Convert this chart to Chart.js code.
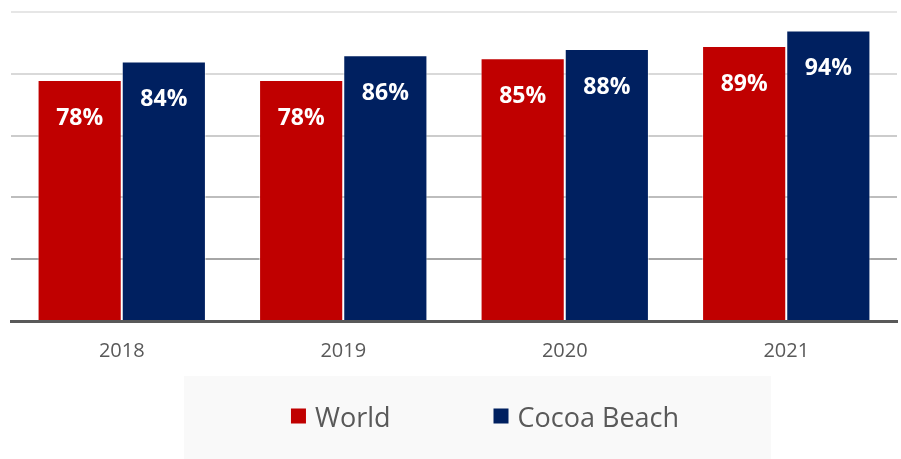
<!DOCTYPE html>
<html>
<head>
<meta charset="utf-8">
<script src="https://cdn.jsdelivr.net/npm/chart.js@4.4.1/dist/chart.umd.min.js"></script>
<style>
    html, body { margin: 0; padding: 0; background: #ffffff; }
    #wrap { width: 901px; height: 459px; position: relative; }
</style>
</head>
<body>
<div id="wrap"><canvas id="chart"></canvas></div>
<script>
// Chart data
const years = ['2018', '2019', '2020', '2021'];
const worldValues = [78, 78, 85, 89];
const cocoaBeachValues = [84, 86, 88, 94];
const seriesNames = ['World', 'Cocoa Beach'];
const seriesColors = ['#c00000', '#002060'];
const yTicks = [0, 20, 40, 60, 80, 100];

// gridlines get darker towards the baseline
const gridColors = ['#595959', '#a6a6a6', '#bdbdbd', '#cccccc', '#d9d9d9', '#e6e6e6'];

// white percentage labels inside each bar
const barLabels = {
    id: 'barLabels',
    afterDatasetsDraw(chart) {
        const ctx = chart.ctx;
        ctx.save();
        ctx.fillStyle = '#ffffff';
        ctx.font = 'bold 23px "Open Sans"';
        ctx.textAlign = 'center';
        ctx.textBaseline = 'middle';
        chart.data.datasets.forEach((ds, i) => {
            chart.getDatasetMeta(i).data.forEach((bar, j) => {
                ctx.fillText(ds.data[j] + '%', bar.x, bar.y + 38);
            });
        });
        ctx.restore();
    }
};

// legend panel with grey background, drawn from the datasets
const legendPanel = {
    id: 'legendPanel',
    beforeDraw(chart) {
        const ctx = chart.ctx;
        ctx.save();
        ctx.fillStyle = '#f9f9f9';
        ctx.fillRect(184, 376, 587, 83);
        ctx.restore();
    },
    afterDraw(chart) {
        const ctx = chart.ctx;
        const box = 15, gapText = 9, gapItem = 103, cy = 418;
        ctx.save();
        ctx.font = '27px "Open Sans"';
        ctx.textBaseline = 'middle';
        const items = chart.data.datasets.map(ds => ({
            label: ds.label,
            color: ds.backgroundColor,
            w: box + gapText + ctx.measureText(ds.label).width
        }));
        const total = items.reduce((s, it) => s + it.w, 0) + gapItem * (items.length - 1);
        let x = 485 - total / 2;
        items.forEach(it => {
            ctx.fillStyle = it.color;
            ctx.fillRect(x, cy - box / 2 - 2, box, box);
            ctx.fillStyle = '#595959';
            ctx.fillText(it.label, x + box + gapText, cy + 1);
            x += it.w + gapItem;
        });
        ctx.restore();
    }
};

new Chart(document.getElementById('chart'), {
    type: 'bar',
    data: {
        labels: years,
        datasets: [
            {
                label: seriesNames[0],
                data: worldValues,
                backgroundColor: seriesColors[0],
                borderColor: 'rgba(255,255,255,0.55)',
                borderWidth: 1
            },
            {
                label: seriesNames[1],
                data: cocoaBeachValues,
                backgroundColor: seriesColors[1],
                borderColor: 'rgba(255,255,255,0.55)',
                borderWidth: 1
            }
        ]
    },
    options: {
        responsive: true,
        maintainAspectRatio: false,
        animation: false,
        layout: { padding: { left: 11, right: 4, top: 12, bottom: 78 } },
        datasets: { bar: { categoryPercentage: 0.76, barPercentage: 1 } },
        plugins: {
            legend: { display: false },
            tooltip: { enabled: false }
        },
        scales: {
            x: {
                grid: { display: false, drawTicks: false },
                border: { display: true, color: '#595959', width: 3 },
                ticks: {
                    color: '#595959',
                    padding: 18,
                    font: { family: '"Open Sans"', size: 20 }
                }
            },
            y: {
                min: 0,
                max: 100,
                afterBuildTicks(scale) {
                    scale.ticks = yTicks.map(v => ({ value: v }));
                },
                ticks: { display: false },
                border: { display: false },
                grid: {
                    drawTicks: false,
                    lineWidth: 2,
                    color: c => gridColors[c.index] || '#d9d9d9'
                }
            }
        }
    },
    plugins: [barLabels, legendPanel]
});
</script>
</body>
</html>
